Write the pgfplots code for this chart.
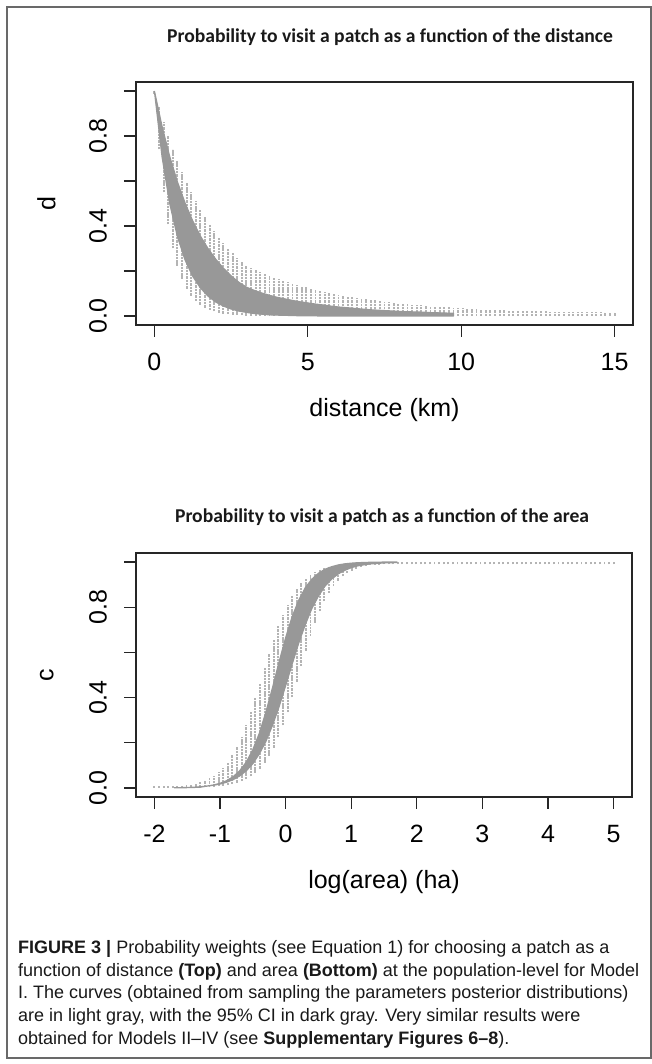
\documentclass[border=0pt]{standalone}
\usepackage{fontspec}
\setmainfont{Liberation Sans}
\newfontfamily\titlefont{Carlito}
\usepackage{pgfplots}
\usepackage{pgfplotstable}
\pgfplotsset{compat=1.18}
\definecolor{lightcol}{RGB}{180,180,180}
\definecolor{darkcol}{RGB}{152,152,152}
\definecolor{framecol}{RGB}{105,105,105}

% light gray sampled curves: vertical spread (lo..hi) at each distance
\pgfplotstableread{
x lo hi
0.00 0.988 1.000
0.15 0.741 0.928
0.30 0.549 0.861
0.45 0.407 0.799
0.60 0.301 0.741
0.75 0.223 0.687
0.90 0.165 0.638
1.05 0.122 0.592
1.20 0.091 0.549
1.35 0.067 0.509
1.50 0.050 0.472
1.65 0.037 0.438
1.80 0.027 0.407
1.95 0.020 0.377
2.10 0.015 0.350
2.25 0.011 0.325
2.40 0.008 0.301
2.55 0.006 0.280
2.70 0.005 0.259
2.85 0.003 0.240
3.00 0.002 0.223
3.15 0.002 0.213
3.30 0.001 0.204
3.45 0.001 0.195
3.60 0.001 0.186
3.75 0.000 0.178
3.90 0.000 0.170
4.05 0.000 0.163
4.20 0.000 0.156
4.35 0.000 0.150
4.50 0.000 0.144
4.65 0.000 0.138
4.80 0.000 0.132
4.95 0.000 0.127
5.10 0.000 0.122
5.25 0.000 0.117
5.40 0.000 0.112
5.55 0.000 0.107
5.70 0.000 0.103
5.85 0.000 0.099
6.00 0.000 0.095
6.15 0.000 0.091
6.30 0.000 0.087
6.45 0.000 0.084
6.60 0.000 0.081
6.75 0.000 0.077
6.90 0.000 0.074
7.05 0.000 0.072
7.20 0.000 0.069
7.35 0.000 0.066
7.50 0.000 0.064
7.65 0.000 0.061
7.80 0.000 0.059
7.95 0.000 0.057
8.10 0.000 0.054
8.25 0.000 0.052
8.40 0.000 0.050
8.55 0.000 0.049
8.70 0.000 0.047
8.85 0.000 0.045
9.00 0.000 0.044
9.15 0.000 0.042
9.30 0.000 0.041
9.45 0.000 0.039
9.60 0.000 0.038
9.75 0.000 0.036
9.90 0.000 0.035
10.05 0.000 0.034
10.20 0.000 0.033
10.35 0.000 0.031
10.50 0.000 0.030
10.65 0.000 0.029
10.80 0.000 0.028
10.95 0.000 0.027
11.10 0.000 0.026
11.25 0.000 0.026
11.40 0.000 0.025
11.55 0.000 0.024
11.70 0.000 0.024
11.85 0.000 0.023
12.00 0.000 0.022
12.15 0.000 0.022
12.30 0.000 0.021
12.45 0.000 0.021
12.60 0.000 0.020
12.75 0.000 0.020
12.90 0.000 0.019
13.05 0.000 0.019
13.20 0.000 0.019
13.35 0.000 0.018
13.50 0.000 0.018
13.65 0.000 0.018
13.80 0.000 0.017
13.95 0.000 0.017
14.10 0.000 0.017
14.25 0.000 0.016
14.40 0.000 0.016
14.55 0.000 0.016
14.70 0.000 0.015
14.85 0.000 0.015
15.00 0.000 0.015
}\toplight

% dark gray 95% CI band (distance): upper edge, then lower edge back
\pgfplotstableread{
x y
0.00 1.000
0.25 0.842
0.50 0.708
0.75 0.596
1.00 0.502
1.25 0.422
1.50 0.355
1.75 0.299
2.00 0.252
2.25 0.212
2.50 0.178
2.75 0.150
3.00 0.128
3.25 0.114
3.50 0.102
3.75 0.092
4.00 0.083
4.25 0.076
4.50 0.069
4.75 0.063
5.00 0.058
5.25 0.053
5.50 0.049
5.75 0.044
6.00 0.040
6.25 0.037
6.50 0.034
6.75 0.031
7.00 0.028
7.25 0.026
7.50 0.024
7.75 0.022
8.00 0.020
8.25 0.019
8.50 0.018
8.75 0.017
9.00 0.015
9.25 0.014
9.50 0.013
9.75 0.012
9.75 0.000
5.50 0.000
5.00 0.001
4.75 0.001
4.50 0.002
4.25 0.003
4.00 0.004
3.75 0.005
3.50 0.008
3.25 0.011
3.00 0.016
2.75 0.022
2.50 0.031
2.25 0.044
2.00 0.062
1.75 0.088
1.50 0.125
1.25 0.176
1.00 0.249
0.75 0.353
0.50 0.499
0.25 0.707
0.00 1.000
}\topdark

% light gray sampled curves (log area)
\pgfplotstableread{
x lo hi
-2.00 0.000 0.010
-1.93 0.000 0.010
-1.86 0.000 0.010
-1.79 0.000 0.010
-1.72 0.000 0.010
-1.65 0.000 0.010
-1.58 0.000 0.010
-1.51 0.001 0.012
-1.44 0.001 0.015
-1.37 0.002 0.019
-1.30 0.002 0.025
-1.23 0.003 0.033
-1.16 0.004 0.042
-1.09 0.006 0.055
-1.02 0.008 0.070
-0.95 0.010 0.090
-0.88 0.013 0.115
-0.81 0.017 0.146
-0.74 0.023 0.182
-0.67 0.030 0.226
-0.60 0.039 0.277
-0.53 0.051 0.334
-0.46 0.067 0.397
-0.39 0.086 0.462
-0.32 0.111 0.530
-0.25 0.142 0.594
-0.18 0.179 0.657
-0.11 0.224 0.715
-0.04 0.277 0.767
0.03 0.336 0.812
0.10 0.401 0.850
0.17 0.470 0.881
0.24 0.540 0.906
0.31 0.608 0.927
0.38 0.673 0.943
0.45 0.731 0.956
0.52 0.782 0.966
0.59 0.826 0.974
0.66 0.863 0.980
0.73 0.893 0.984
0.80 0.917 0.988
0.87 0.936 0.991
0.94 0.951 0.993
1.01 0.962 0.995
1.08 0.971 0.996
1.15 0.978 0.997
1.22 0.983 0.998
1.29 0.987 0.998
1.36 0.988 1.000
1.43 0.989 1.000
1.50 0.990 1.000
1.57 0.990 1.000
1.64 0.990 1.000
1.71 0.990 1.000
1.78 0.990 1.000
1.85 0.990 1.000
1.92 0.990 1.000
1.99 0.990 1.000
2.06 0.990 1.000
2.13 0.990 1.000
2.20 0.990 1.000
2.27 0.990 1.000
2.34 0.990 1.000
2.41 0.990 1.000
2.48 0.990 1.000
2.55 0.990 1.000
2.62 0.990 1.000
2.69 0.990 1.000
2.76 0.990 1.000
2.83 0.990 1.000
2.90 0.990 1.000
2.97 0.990 1.000
3.04 0.990 1.000
3.11 0.990 1.000
3.18 0.990 1.000
3.25 0.990 1.000
3.32 0.990 1.000
3.39 0.990 1.000
3.46 0.990 1.000
3.53 0.990 1.000
3.60 0.990 1.000
3.67 0.990 1.000
3.74 0.990 1.000
3.81 0.990 1.000
3.88 0.990 1.000
3.95 0.990 1.000
4.02 0.990 1.000
4.09 0.990 1.000
4.16 0.990 1.000
4.23 0.990 1.000
4.30 0.990 1.000
4.37 0.990 1.000
4.44 0.990 1.000
4.51 0.990 1.000
4.58 0.990 1.000
4.65 0.990 1.000
4.72 0.990 1.000
4.79 0.990 1.000
4.86 0.990 1.000
4.93 0.990 1.000
5.00 0.990 1.000
}\botlight

% dark gray 95% CI band (log area): upper edge, then lower edge back
\pgfplotstableread{
x y
-1.7 0.0009
-1.6 0.0014
-1.5 0.0022
-1.4 0.0034
-1.3 0.0053
-1.2 0.0084
-1.1 0.0131
-1.0 0.0206
-0.9 0.0320
-0.8 0.0497
-0.7 0.0759
-0.6 0.114
-0.5 0.169
-0.4 0.242
-0.3 0.336
-0.2 0.443
-0.1 0.557
0.0 0.664
0.1 0.758
0.2 0.831
0.3 0.886
0.4 0.924
0.5 0.950
0.6 0.968
0.7 0.979
0.8 0.987
0.9 0.992
1.0 0.995
1.1 0.997
1.2 0.998
1.3 0.999
1.4 0.999
1.5 1.000
1.6 1.000
1.7 1.000
1.7 0.998
1.6 0.997
1.5 0.996
1.4 0.994
1.3 0.992
1.2 0.988
1.1 0.983
1.0 0.975
0.9 0.963
0.8 0.947
0.7 0.924
0.6 0.893
0.5 0.849
0.4 0.794
0.3 0.723
0.2 0.641
0.1 0.548
0.0 0.452
-0.1 0.359
-0.2 0.277
-0.3 0.206
-0.4 0.151
-0.5 0.107
-0.6 0.0759
-0.7 0.0530
-0.8 0.0366
-0.9 0.0253
-1.0 0.0173
-1.1 0.0119
-1.2 0.0081
-1.3 0.0035
-1.4 0.0022
-1.5 0.0014
-1.6 0.0009
-1.7 0.0005
}\botdark

\pgfplotsset{
  rstyle/.style={
    scale only axis,
    axis line style={black!85, line width=1.2pt},
    tick style={black!85, line width=1.1pt},
    tick align=outside,
    major tick length=12pt,
    xtick pos=left, ytick pos=left,
    ticklabel style={font=\fontsize{25}{30}\selectfont, inner sep=0pt},
    xticklabel style={anchor=north},
    yticklabel style={rotate=90, anchor=south},
    xticklabel shift=16pt,
    yticklabel shift=17pt,
    label style={font=\fontsize{25}{30}\selectfont},
    ymin=-0.04, ymax=1.04,
    ytick={0,0.2,0.4,0.6,0.8,1},
    yticklabels={0.0,,0.4,,0.8,},
  },
  lightcols/.style={lightcol, line width=1.9pt, dash pattern=on 2.4pt off 0.9pt,
    quiver={u=0, v=\thisrow{hi}-\thisrow{lo}}},
  band/.style={fill=darkcol, draw=darkcol, line width=1.2pt, line join=round},
}

\begin{document}
\begin{tikzpicture}
\useasboundingbox (0pt,0pt) rectangle (652pt,1064pt);
\draw[framecol, line width=1.4pt] (7pt,6pt) rectangle (650.8pt,1057pt);

\node[anchor=base, font=\titlefont\bfseries\fontsize{19.6}{23}\selectfont, text=black!90] at (390pt,1021pt)
  {Probability to visit a patch as a function of the distance};

\begin{axis}[rstyle, at={(136pt,739pt)}, anchor=south west, width=497pt, height=243pt,
  xmin=-0.6, xmax=15.6, xtick={0,5,10,15}, xticklabels={0,5,10,15},
  xlabel={distance (km)}, ylabel={d},
  xlabel style={at={(axis description cs:0.5,-0.35)}, anchor=center},
  ylabel style={at={(axis description cs:-0.18,0.5)}, anchor=center}]
  \addplot[lightcols] table[x=x, y=lo] {\toplight};
  \addplot[band] table[x=x, y=y] {\topdark};
\end{axis}

\node[anchor=base, font=\titlefont\bfseries\fontsize{19.6}{23}\selectfont, text=black!90] at (382pt,541pt)
  {Probability to visit a patch as a function of the area};

\begin{axis}[rstyle, at={(136pt,267pt)}, anchor=south west, width=496pt, height=244pt,
  xmin=-2.28, xmax=5.28, xtick={-2,-1,0,1,2,3,4,5}, xticklabels={-2,-1,0,1,2,3,4,5},
  xlabel={log(area) (ha)}, ylabel={c},
  xlabel style={at={(axis description cs:0.5,-0.348)}, anchor=center},
  ylabel style={at={(axis description cs:-0.18,0.5)}, anchor=center}]
  \addplot[lightcols] table[x=x, y=lo] {\botlight};
  \addplot[band] table[x=x, y=y] {\botdark};
\end{axis}

\begin{scope}[every node/.style={anchor=base west, inner sep=0pt, font=\fontsize{18}{22}\selectfont, text=black!90}]
\node at (18pt,110pt) {\textbf{FIGURE 3 |} Probability weights (see Equation 1) for choosing a patch as a};
\node at (18pt,87pt) {function of distance \textbf{(Top)} and area \textbf{(Bottom)} at the population-level for Model};
\node at (18pt,65pt) {I. The curves (obtained from sampling the parameters posterior distributions)};
\node at (18pt,42pt) {are in light gray, with the 95\% CI in dark gray. Very similar results were};
\node at (18pt,19pt) {obtained for Models II–IV (see \textbf{Supplementary Figures 6–8}).};
\end{scope}
\end{tikzpicture}
\end{document}
